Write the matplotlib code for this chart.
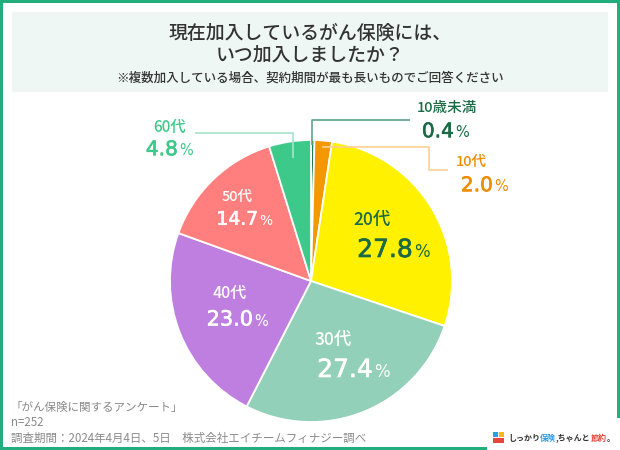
import matplotlib
matplotlib.use("Agg")
import matplotlib.pyplot as plt
from matplotlib.patches import Rectangle
import matplotlib.patheffects as pe

plt.rcParams['font.family'] = ['Noto Sans CJK JP', 'DejaVu Sans']

# ---- data ----
categories = ["10歳未満", "10代", "20代", "30代", "40代", "50代", "60代"]
values = [0.4, 2.0, 27.8, 27.4, 23.0, 14.7, 4.8]
colors = ["#1f7a52", "#f39800", "#fff100", "#93d0b9", "#bf7fe0", "#ff7f7f", "#3cc98a"]
title_lines = ["現在加入しているがん保険には、", "いつ加入しましたか？"]
subtitle = "※複数加入している場合、契約期間が最も長いものでご回答ください"
footer = ["「がん保険に関するアンケート」", "n=252", "調査期間：2024年4月4日、5日　株式会社エイチームフィナジー調べ"]

W, H = 620, 450
fig = plt.figure(figsize=(W / 100, H / 100), dpi=100)
fig.patch.set_facecolor("white")

# background / frame axes in pixel coordinates
bg = fig.add_axes([0, 0, 1, 1], zorder=0)
bg.set_xlim(0, W); bg.set_ylim(H, 0); bg.axis("off")
green = "#22ad7d"
bg.add_patch(Rectangle((0, 0), W, H, facecolor="white", edgecolor="none"))
bw = 3
bg.add_patch(Rectangle((0, 0), W, bw, color=green, lw=0))
bg.add_patch(Rectangle((0, 0), bw, H, color=green, lw=0))
bg.add_patch(Rectangle((W - bw, 0), bw, 418, color=green, lw=0))
bg.add_patch(Rectangle((0, H - bw), 487, bw, color=green, lw=0))
bg.add_patch(Rectangle((12, 12), 596, 80, facecolor="#eef7f3", edgecolor="none"))

# pie axes: center (311,281), radius 141 px
cx, cy, r = 311, 281, 141
pie_ax = fig.add_axes([(cx - r) / W, (H - cy - r) / H, 2 * r / W, 2 * r / H], zorder=1)
pie_ax.pie(values, colors=colors, startangle=90, counterclock=False,
           wedgeprops=dict(edgecolor="white", linewidth=1.3), radius=1)
pie_ax.set_xlim(-1, 1); pie_ax.set_ylim(-1, 1)
pie_ax.set_aspect("auto")

# overlay axes for text / leader lines
ov = fig.add_axes([0, 0, 1, 1], zorder=2)
ov.set_xlim(0, W); ov.set_ylim(H, 0); ov.axis("off")
ov.patch.set_alpha(0)

tc = "#333333"
ov.text(310, 33, title_lines[0], ha="center", va="center", fontsize=13.6, fontweight="medium", color=tc)
ov.text(310, 55, title_lines[1], ha="center", va="center", fontsize=13.6, fontweight="medium", color=tc)
ov.text(310, 78, subtitle, ha="center", va="center", fontsize=9.0, fontweight="medium", color=tc)

fc = "#8a8a8a"
for i, line in enumerate(footer):
    ov.text(11, 407 + i * 15.5, line, ha="left", va="center", fontsize=8.3, color=fc)

# leader lines
ov.plot([195, 293, 293], [133, 133, 158], color="#a6e4c8", lw=1.2, solid_capstyle="butt")
ov.plot([410, 312, 312], [120, 120, 145], color="#5aa587", lw=1.2, solid_capstyle="butt")
ov.plot([322, 429, 429, 448], [147, 147, 170, 170], color="#fdd192", lw=1.2, solid_capstyle="butt")

# labels
num_font = "DejaVu Sans"
label_specs = [
    # idx, name_x, name_y, name_ha, split_x, pct_y, name_fs, num_fs, pct_fs, color
    (0, 417, 108, "left", 454, 130, 10.5, 14.5, 10.5, "#1a6a45"),
    (1, 456, 162, "left", 493, 184, 10.5, 14.5, 10.5, "#f08c00"),
    (2, 372, 220, "center", 413, 248, 12.5, 18, 12, "#1a6a45"),
    (3, 333, 340, "center", 373, 368, 12.5, 18, 12, "white"),
    (4, 230, 293, "center", 253, 318, 11.5, 15, 10.5, "white"),
    (5, 237, 197, "center", 258, 218, 10.5, 13.5, 10, "white"),
    (6, 170, 127, "center", 178, 148, 11, 14.5, 10.5, "#3cc98a"),
]
for idx, nx, ny, nha, sx, py, nfs, numfs, pfs, col in label_specs:
    ov.text(nx, ny, categories[idx], ha=nha, va="center", fontsize=nfs, color=col, fontweight="medium")
    ov.text(sx, py + numfs * 0.5, f"{values[idx]:.1f}", ha="right", va="baseline", fontsize=numfs,
            color=col, family=num_font,
            path_effects=[pe.withStroke(linewidth=0.45, foreground=col)])
    ov.text(sx + 1, py + numfs * 0.5, "%", ha="left", va="baseline", fontsize=pfs, color=col,
            family=num_font)

# logo
ov.add_patch(Rectangle((493, 432), 5, 5, color="#2e9be6", lw=0))
ov.add_patch(Rectangle((499, 432), 5, 5, color="#f5b820", lw=0))
ov.add_patch(Rectangle((493, 438), 11, 5, color="#e8453c", lw=0))
x0 = 508
parts = [("しっかり", "#333333"), ("保険", "#2e9be6"), (",ちゃんと", "#333333"), ("節約", "#e8453c"), ("。", "#333333")]
fig.canvas.draw()
renderer = fig.canvas.get_renderer()
for txt, col in parts:
    t = ov.text(x0, 438, txt, ha="left", va="center", fontsize=5.8, fontweight="bold", color=col)
    bb = t.get_window_extent(renderer=renderer)
    x0 += bb.width

fig.savefig("out.png", dpi=100, facecolor="white")
